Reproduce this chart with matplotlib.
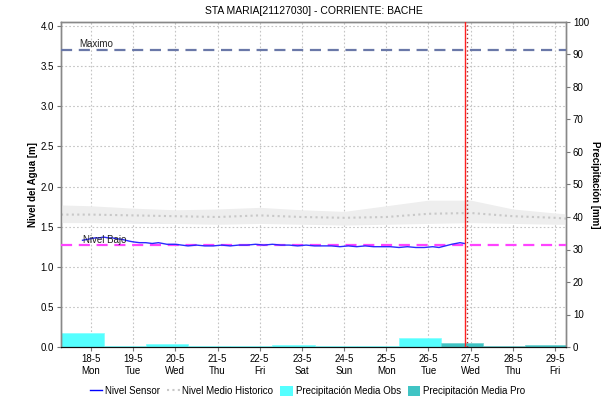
import matplotlib
import numpy as np

matplotlib.use("Agg")
import matplotlib.pyplot as plt
from matplotlib.lines import Line2D
from matplotlib.patches import Patch

plt.rcParams["font.family"] = ["Liberation Sans", "DejaVu Sans"]

# x axis: days since 18-5 (tick at each day)
day_labels = ["18-5\nMon", "19-5\nTue", "20-5\nWed", "21-5\nThu", "22-5\nFri", "23-5\nSat",
              "24-5\nSun", "25-5\nMon", "26-5\nTue", "27-5\nWed", "28-5\nThu", "29-5\nFri"]

# water level from sensor [m]
sensor_t = [-0.20, -0.10, 0.00, 0.10, 0.20, 0.30, 0.40, 0.50, 0.60, 0.75, 0.90, 1.00, 1.15,
            1.30, 1.45, 1.60, 1.80, 2.00, 2.15, 2.30, 2.50, 2.70, 2.90, 3.10, 3.30, 3.50,
            3.70, 3.90, 4.10, 4.30, 4.50, 4.70, 4.90, 5.10, 5.30, 5.50, 5.70, 5.90, 6.10,
            6.30, 6.50, 6.70, 6.90, 7.10, 7.30, 7.50, 7.70, 7.90, 8.10, 8.25, 8.40, 8.55,
            8.65, 8.75, 8.85]
sensor_level = [1.33, 1.34, 1.35, 1.36, 1.36, 1.37, 1.36, 1.36, 1.35, 1.34, 1.32, 1.31, 1.30,
                1.30, 1.29, 1.30, 1.28, 1.28, 1.27, 1.26, 1.27, 1.26, 1.26, 1.27, 1.26, 1.27,
                1.27, 1.28, 1.27, 1.28, 1.27, 1.27, 1.26, 1.27, 1.26, 1.26, 1.26, 1.25, 1.26,
                1.25, 1.26, 1.25, 1.25, 1.25, 1.24, 1.25, 1.24, 1.24, 1.25, 1.24, 1.26, 1.28,
                1.29, 1.30, 1.29]

# historical mean level and its band [m]
hist_t = [-0.71, 0, 1, 2, 3, 4, 5, 6, 7, 8, 9, 10, 11, 11.26]
hist_mean = [1.65, 1.65, 1.64, 1.63, 1.62, 1.64, 1.62, 1.61, 1.62, 1.66, 1.67, 1.63, 1.61, 1.60]
hist_upper = [1.77, 1.76, 1.73, 1.71, 1.72, 1.74, 1.71, 1.69, 1.76, 1.83, 1.83, 1.72, 1.67, 1.66]
hist_lower = [1.55, 1.55, 1.54, 1.54, 1.53, 1.54, 1.53, 1.52, 1.53, 1.54, 1.55, 1.54, 1.53, 1.53]

nivel_maximo = 3.70
nivel_bajo = 1.275
now_day = 8.87

# daily precipitation [mm], bars span day boundaries at 07:00
precip_obs_start = [-0.7, 0.3, 1.3, 2.3, 3.3, 4.3, 5.3, 6.3, 7.3]
precip_obs = [4.4, 0.3, 1.0, 0.3, 0.3, 0.6, 0.3, 0.3, 2.7]
precip_pro_start = [8.3, 9.3, 10.3]
precip_pro = [1.3, 0.3, 0.5]

fig = plt.figure(figsize=(6.15, 4.01), dpi=100)
ax = fig.add_axes([61 / 615, 1 - 347 / 401, 505 / 615, 325 / 401])
ax2 = ax.twinx()
ax.set_zorder(2)
ax.patch.set_visible(False)

ax.set_xlim(-0.71, 11.26)
ax.set_ylim(0, 4.05)
ax2.set_ylim(0, 100)

grid_kw = dict(color="#c4c4c4", linestyle=(0, (1.5, 2)), linewidth=0.8)
ax2.grid(False)
for d in range(12):
    ax2.axvline(d, zorder=0, **grid_kw)
for v in np.arange(0.5, 4.01, 0.5):
    ax2.axhline(v / 4.05 * 100, zorder=0, **grid_kw)

ax.fill_between(hist_t, hist_lower, hist_upper, color="#eeeeee", lw=0, zorder=1)
ax.plot(hist_t, hist_mean, color="#c8c8c8", lw=1.5, linestyle=(0, (1, 1.6)), zorder=2)

ax2.bar(precip_obs_start, precip_obs, width=1.0, align="edge", color="#55ffff",
        edgecolor="#80ffff", lw=0.5, zorder=2)
ax2.bar(precip_pro_start, precip_pro, width=1.0, align="edge", color="#40c4c4",
        edgecolor="#70d0d0", lw=0.5, zorder=2)

ax.axhline(nivel_maximo, color="#6a78a8", lw=1.6, dashes=(5, 3), zorder=3)
ax.text(-0.27, nivel_maximo + 0.01, "Maximo", fontsize=7, color="#222222", va="bottom", zorder=4)
ax.axhline(nivel_bajo, color="#ff44ff", lw=1.6, dashes=(5, 3), zorder=3)
ax.text(-0.2, nivel_bajo, "Nivel Bajo", fontsize=7, color="#222222", va="bottom", zorder=5)

ax.plot(sensor_t, sensor_level, color="#2a2aff", lw=1.0, zorder=4)

ax.axvline(now_day, color="#ff2020", lw=1.0, zorder=6)
ax.axvline(now_day + 0.04, color="#a03030", lw=1.0, linestyle=(0, (1, 2)), zorder=6)

ax.set_xticks(range(12))
ax.set_xticklabels(day_labels, fontsize=7, linespacing=1.3)
ax.set_yticks(np.arange(0, 4.01, 0.5))
ax.set_yticklabels([f"{v:.1f}" for v in np.arange(0, 4.01, 0.5)], fontsize=7)
ax2.set_yticks(range(0, 101, 10))
ax2.tick_params(axis="y", labelsize=7, length=3, color="#777777", pad=2)
ax.tick_params(axis="both", length=3, color="#777777", pad=2)

for a in (ax, ax2):
    for s in ("left", "right", "top"):
        a.spines[s].set_color("#888888")
        a.spines[s].set_linewidth(1.0)
    a.spines["bottom"].set_color("#111111")
    a.spines["bottom"].set_linestyle((0, (1, 1)))

ax.set_ylabel("Nivel del Agua [m]", fontsize=7, fontweight="bold", labelpad=2)
ax2.set_ylabel("Precipitación [mm]", fontsize=7, fontweight="bold", rotation=-90, labelpad=8)
ax.set_title("STA MARIA[21127030] - CORRIENTE: BACHE", fontsize=7.5, pad=6)

handles = [
    Line2D([], [], color="#0000ff", lw=1.0),
    Line2D([], [], color="#c8c8c8", lw=1.5, linestyle=(0, (1, 1.6))),
    Patch(facecolor="#55ffff", edgecolor="none"),
    Patch(facecolor="#40c4c4", edgecolor="none"),
]
labels = ["Nivel Sensor", "Nivel Medio Historico", "Precipitación Media Obs", "Precipitación Media Pro"]
fig.legend(handles, labels, loc="center", bbox_to_anchor=(0.5, 1 - 391 / 401), ncol=4,
           frameon=False, fontsize=7, handlelength=1.3, handleheight=1.2, handletextpad=0.3,
           columnspacing=0.7)

fig.savefig("out.png", dpi=100)
